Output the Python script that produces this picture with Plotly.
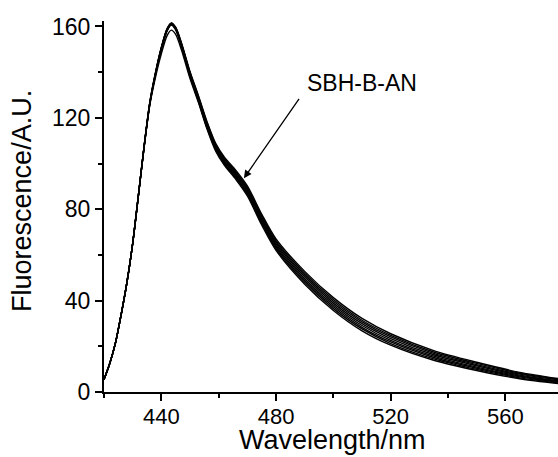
import plotly.graph_objects as go

wavelength = [420, 422, 424, 426, 428, 430, 432, 434, 436, 438, 440, 442, 443.5, 445, 447,
              450, 453, 456, 459, 462, 466, 470, 475, 480, 490, 500, 510, 520, 535, 550, 565, 578.4]

s0 = [5.5, 12.5, 21.5, 34, 48, 65, 86, 107.8, 127.0, 140.1, 150.9, 159.1, 161.6, 159.7, 152.9,
      140.3, 129.5, 118.1, 108.7, 102.8, 97.0, 90.2, 77.9, 67.0, 52.8, 41.3, 32.2, 25.5, 18.1, 13.0, 8.6, 5.9]
s1 = [5.5, 12.5, 21.5, 34, 48, 65, 86, 107.7, 126.9, 139.9, 150.7, 158.9, 161.4, 159.5, 152.6,
      139.9, 129.1, 117.7, 108.2, 102.3, 96.4, 89.6, 77.2, 66.3, 52.0, 40.5, 31.4, 24.8, 17.5, 12.5, 8.2, 5.6]
s2 = [5.5, 12.5, 21.5, 34, 48, 65, 86, 107.6, 126.7, 139.8, 150.6, 158.8, 161.3, 159.3, 152.4,
      139.6, 128.6, 117.2, 107.7, 101.8, 95.9, 88.9, 76.5, 65.6, 51.2, 39.7, 30.7, 24.1, 16.9, 12.0, 7.8, 5.3]
s3 = [5.5, 12.5, 21.5, 34, 48, 65, 86, 107.5, 126.6, 139.6, 150.4, 158.6, 161.1, 159.1, 152.1,
      139.2, 128.2, 116.7, 107.2, 101.3, 95.3, 88.3, 75.8, 64.9, 50.4, 38.9, 29.9, 23.4, 16.3, 11.5, 7.4, 4.9]
s4 = [5.5, 12.5, 21.5, 34, 48, 65, 86, 107.5, 126.4, 139.4, 150.2, 158.4, 160.9, 158.9, 151.9,
      138.8, 127.8, 116.3, 106.8, 100.7, 94.7, 87.7, 75.2, 64.1, 49.6, 38.1, 29.1, 22.6, 15.7, 10.9, 7.0, 4.6]
s5 = [5.5, 12.5, 21.5, 34, 48, 65, 86, 107.4, 126.3, 139.2, 150.0, 158.2, 160.7, 158.7, 151.6,
      138.4, 127.4, 115.8, 106.3, 100.2, 94.1, 87.1, 74.5, 63.4, 48.8, 37.3, 28.3, 21.9, 15.1, 10.4, 6.6, 4.3]
s6 = [5.5, 12.5, 21.5, 34, 48, 65, 86, 107.3, 126.1, 139.1, 149.9, 158.1, 160.6, 158.5, 151.4,
      138.1, 126.9, 115.3, 105.8, 99.7, 93.6, 86.4, 73.8, 62.7, 48.0, 36.5, 27.6, 21.2, 14.5, 9.9, 6.2, 4.0]
s7 = [5.5, 12.5, 21.5, 34, 48, 65, 86, 107.2, 125.8, 138.0, 148.0, 156.0, 158.4, 156.5, 149.8,
      137.2, 126.5, 114.9, 105.3, 99.2, 93.0, 85.8, 73.1, 62.0, 47.2, 35.7, 26.8, 20.5, 13.9, 9.4, 5.8, 3.7]

series = [s0, s1, s2, s3, s4, s5, s6, s7]

x_ticks = [440, 480, 520, 560]
y_ticks = [0, 40, 80, 120, 160]
label_text = "SBH-B-AN"
x_title = "Wavelength/nm"
y_title = "Fluorescence/A.U."

FONT = "Arial, 'Liberation Sans', sans-serif"

fig = go.Figure()
for s in series:
    fig.add_trace(go.Scatter(x=wavelength, y=s, mode="lines",
                             line=dict(color="black", width=1.4, shape="spline", smoothing=0.8),
                             showlegend=False, hoverinfo="skip"))

fig.update_layout(
    width=558, height=457,
    margin=dict(l=104, r=0, t=21, b=65),
    paper_bgcolor="white", plot_bgcolor="white",
    font=dict(family=FONT, color="black"),
    showlegend=False,
)

fig.update_xaxes(
    range=[420, 578.35], showgrid=False, zeroline=False, automargin=False,
    showline=True, linecolor="black", linewidth=2,
    ticks="outside", ticklen=7, tickwidth=2, tickcolor="black",
    tickvals=x_ticks, ticktext=[str(v) for v in x_ticks],
    tickfont=dict(size=22, family=FONT, color="black"),
    ticklabelstandoff=-3,
    minor=dict(dtick=20, tick0=420, ticks="outside", ticklen=4, tickwidth=2, tickcolor="black"),
)
fig.update_yaxes(
    range=[0, 162.4], showgrid=False, zeroline=False, automargin=False,
    showline=True, linecolor="black", linewidth=2,
    ticks="outside", ticklen=7, tickwidth=2, tickcolor="black",
    tickvals=y_ticks, ticktext=[str(v) for v in y_ticks],
    tickfont=dict(size=23, family=FONT, color="black"),
    minor=dict(dtick=20, tick0=0, ticks="outside", ticklen=4, tickwidth=2, tickcolor="black"),
)

# axis titles
fig.add_annotation(x=0.503, y=-0.129, xref="paper", yref="paper", text=x_title,
                   showarrow=False, xanchor="center", yanchor="middle",
                   font=dict(size=27, family=FONT, color="black"))
fig.add_annotation(x=-0.1806, y=0.515, xref="paper", yref="paper", text=y_title,
                   showarrow=False, xanchor="center", yanchor="middle", textangle=-90,
                   font=dict(size=27, family=FONT, color="black"))

# arrow
fig.add_annotation(x=468.8, y=93.6, ax=488.4, ay=129.0, xref="x", yref="y",
                   axref="x", ayref="y", text="", showarrow=True,
                   arrowhead=2, arrowsize=1.2, arrowwidth=1.3, arrowcolor="black", standoff=0)
# label
fig.add_annotation(x=509.9, y=135.2, xref="x", yref="y", text=label_text,
                   showarrow=False, font=dict(size=23, family=FONT, color="black"))

fig.write_html("out.html", config={"displayModeBar": False},
               post_script="document.body.style.margin='0';document.body.style.overflow='hidden';")
